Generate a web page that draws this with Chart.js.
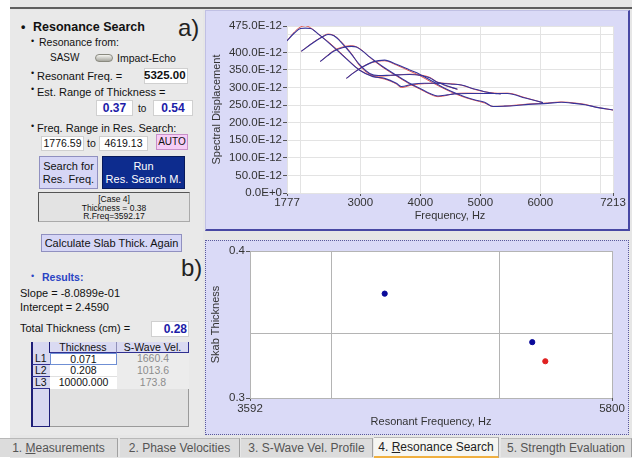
<!DOCTYPE html>
<html>
<head>
<meta charset="utf-8">
<script src="https://cdn.jsdelivr.net/npm/chart.js"></script>
<style>
  body { margin: 0; width: 638px; height: 458px; background: #fff; position: relative; overflow: hidden;
         font-family: "Liberation Sans", Arial, sans-serif; color: #111; }
  .abs { position: absolute; white-space: nowrap; }
  .box { position: absolute; background: #fff; box-sizing: border-box; border: 1px solid #d0d0d0; }
  .btn { position: absolute; box-sizing: border-box; text-align: center; font-size: 11px; line-height: 13px; }
  .cell { position: absolute; box-sizing: border-box; font-size: 10.5px; text-align: center; line-height: 11px; }
  .tab { position: absolute; top: 438px; height: 19px; line-height: 19px; text-align: center; font-size: 12px;
         color: #555; background: #dcdcdc; box-sizing: border-box; border-right: 1px solid #a0a0a0; border-top: 1px solid #b8b8b8; }
</style>
</head>
<body>

<!-- app frame -->
<div class="abs" style="left:10px;top:0;width:622px;height:458px;background:#e6e6e6;"></div>
<div class="abs" style="left:10px;top:7px;width:622px;height:2px;background:#5e5e5e;"></div>

<!-- left panel -->
<div class="abs" style="left:10px;top:10px;width:193px;height:425px;background:#e9e9e9;"></div>
<div class="abs" style="left:21px;top:20px;font-size:12.5px;font-weight:bold;">•</div>
<div class="abs" style="left:33px;top:20px;font-size:12.5px;font-weight:bold;">Resonance Search</div>
<div class="abs" style="left:31px;top:36px;font-size:9px;">•</div>
<div class="abs" style="left:39px;top:36px;font-size:10.5px;">Resonance from:</div>
<div class="abs" style="left:50px;top:52px;font-size:10px;">SASW</div>
<div class="abs" style="left:95px;top:54px;width:18px;height:8px;border-radius:4px;background:linear-gradient(#f4f4f0,#a8a8a0);border:1px solid #8a8a80;box-sizing:border-box;"></div>
<div class="abs" style="left:117px;top:52px;font-size:10.5px;">Impact-Echo</div>

<div class="abs" style="left:31px;top:68px;font-size:9px;">•</div>
<div class="abs" style="left:37px;top:70px;font-size:11px;">Resonant Freq. =</div>
<div class="box" style="left:144px;top:68px;width:44px;height:16px;"></div>
<div class="abs" style="left:144px;top:69px;width:41px;text-align:right;font-size:11.5px;font-weight:bold;">5325.00</div>

<div class="abs" style="left:31px;top:84px;font-size:9px;">•</div>
<div class="abs" style="left:37px;top:86px;font-size:11px;">Est. Range of Thickness =</div>
<div class="box" style="left:96px;top:100px;width:37px;height:16px;"></div>
<div class="abs" style="left:96px;top:101px;width:37px;text-align:center;font-size:12px;font-weight:bold;color:#1c1ca8;">0.37</div>
<div class="abs" style="left:138px;top:103px;font-size:10px;">to</div>
<div class="box" style="left:153px;top:100px;width:40px;height:16px;"></div>
<div class="abs" style="left:153px;top:101px;width:40px;text-align:center;font-size:12px;font-weight:bold;color:#1c1ca8;">0.54</div>

<div class="abs" style="left:31px;top:121px;font-size:9px;">•</div>
<div class="abs" style="left:37px;top:122px;font-size:11px;">Freq. Range in Res. Search:</div>
<div class="box" style="left:41px;top:136px;width:43px;height:15px;"></div>
<div class="abs" style="left:41px;top:137px;width:43px;text-align:center;font-size:10.5px;">1776.59</div>
<div class="abs" style="left:87px;top:137px;font-size:10.5px;">to</div>
<div class="box" style="left:99px;top:136px;width:49px;height:15px;"></div>
<div class="abs" style="left:99px;top:137px;width:49px;text-align:center;font-size:10.5px;">4619.13</div>
<div class="abs" style="left:156px;top:134px;width:32px;height:16px;background:#f6cdf6;border:1px solid #c890c8;box-sizing:border-box;text-align:center;font-size:10px;line-height:14px;">AUTO</div>

<div class="btn" style="left:39px;top:156px;width:59px;height:33px;background:#d6d6f6;border:1px solid #9090c0;padding-top:3px;">Search for<br>Res. Freq.</div>
<div class="btn" style="left:102px;top:156px;width:83px;height:33px;background:#0d2c8e;border:1px solid #07195a;color:#fff;padding-top:3px;">Run<br>Res. Search M.</div>

<div class="abs" style="left:38px;top:192px;width:152px;height:30px;background:#e3e3e3;border:1px solid #555;border-right-color:#aaa;border-bottom-color:#aaa;box-sizing:border-box;text-align:center;font-size:8.5px;line-height:8.5px;padding-top:2px;">[Case 4]<br>Thickness = 0.38<br>R.Freq=3592.17</div>

<div class="btn" style="left:41px;top:234px;width:141px;height:18px;background:#d6d6f6;border:1px solid #9090c0;line-height:16px;">Calculate Slab Thick. Again</div>

<div class="abs" style="left:31px;top:271px;font-size:9px;color:#2a44c4;">•</div>
<div class="abs" style="left:42px;top:271px;font-size:10.5px;font-weight:bold;color:#2a44c4;">Results:</div>
<div class="abs" style="left:20px;top:287px;font-size:11px;">Slope = -8.0899e-01</div>
<div class="abs" style="left:20px;top:301px;font-size:11px;">Intercept = 2.4590</div>
<div class="abs" style="left:20px;top:322px;font-size:11px;">Total Thickness (cm) =</div>
<div class="box" style="left:151px;top:321px;width:38px;height:16px;"></div>
<div class="abs" style="left:151px;top:322px;width:36px;text-align:right;font-size:12px;font-weight:bold;color:#1c1ca8;">0.28</div>

<!-- results table -->
<div class="abs" style="left:31px;top:342px;width:158px;height:85px;background:#e2e2e2;border:1px solid #9a9a9a;box-sizing:border-box;"></div>
<div class="cell" style="left:31px;top:342px;width:19px;height:85px;background:#d8d8f0;border-left:2px solid #1e1e78;border-right:1px solid #1e1e78;border-bottom:1px solid #1e1e78;"></div>
<div class="cell" style="left:50px;top:342px;width:67px;height:11px;background:#dadaf2;border-right:1px solid #9090b8;border-bottom:1px solid #303090;">Thickness</div>
<div class="cell" style="left:117px;top:342px;width:72px;height:11px;background:#dadaf2;border-right:1px solid #303090;border-bottom:1px solid #303090;">S-Wave Vel.</div>
<div class="cell" style="left:31px;top:353px;width:19px;height:12px;background:#d8d8f0;border-left:2px solid #1e1e78;border-bottom:1px solid #303090;text-align:left;padding-left:2px;">L1</div>
<div class="cell" style="left:31px;top:365px;width:19px;height:12px;background:#d8d8f0;border-left:2px solid #1e1e78;border-bottom:1px solid #303090;text-align:left;padding-left:2px;">L2</div>
<div class="cell" style="left:31px;top:377px;width:19px;height:12px;background:#d8d8f0;border-left:2px solid #1e1e78;border-bottom:1px solid #303090;text-align:left;padding-left:2px;">L3</div>
<div class="cell" style="left:50px;top:353px;width:67px;height:12px;background:#fff;border:1px solid #6f8fd4;">0.071</div>
<div class="cell" style="left:50px;top:365px;width:67px;height:12px;background:#fff;border-bottom:1px solid #e0e0e0;">0.208</div>
<div class="cell" style="left:50px;top:377px;width:67px;height:12px;background:#fff;">10000.000</div>
<div class="cell" style="left:117px;top:353px;width:72px;height:12px;background:#ececec;color:#8c8c8c;">1660.4</div>
<div class="cell" style="left:117px;top:365px;width:72px;height:12px;background:#ececec;color:#8c8c8c;">1013.6</div>
<div class="cell" style="left:117px;top:377px;width:72px;height:12px;background:#ececec;color:#8c8c8c;">173.8</div>

<!-- graph panels -->
<div class="abs" style="left:205px;top:10px;width:425px;height:221px;background:#dadaf7;border:1px solid #c0c0e4;border-right:2px solid #4848a4;border-bottom:2px solid #4848a4;box-sizing:border-box;"></div>
<div class="abs" style="left:205px;top:240px;width:424px;height:195px;background:#dadaf7;border:1px dotted #5a5a9a;box-sizing:border-box;"></div>
<div class="abs" style="left:178px;top:14px;font-size:24px;color:#222;">a)</div>
<div class="abs" style="left:181px;top:254px;font-size:24px;color:#222;">b)</div>

<canvas id="specChart" class="abs" style="left:208px;top:12px;" width="418" height="218"></canvas>
<canvas id="thickChart" class="abs" style="left:208px;top:243px;" width="418" height="190"></canvas>

<!-- tabs -->
<div class="tab" style="left:0px;width:118px;">1. <u>M</u>easurements</div>
<div class="tab" style="left:120px;width:120px;">2. Phase Velocities</div>
<div class="tab" style="left:241px;width:132px;">3. S-Wave Vel. Profile</div>
<div class="tab" style="left:374px;width:125px;top:437px;height:21px;background:#f6f6f2;color:#222;border-bottom:2px solid #f0b040;">4. <u>R</u>esonance Search</div>
<div class="tab" style="left:501px;width:131px;">5. Strength Evaluation</div>

<script>
// --- a) spectral displacement curves (values in E-12) ---
const freqTicks = [1777, 2000, 3000, 4000, 5000, 6000, 7000, 7213];
const freqTickLabels = ["1777", "", "3000", "4000", "5000", "6000", "", "7213"];
const dispTicks = [0, 50, 100, 150, 200, 250, 300, 350, 400, 450, 475];
const dispTickLabels = ["0.0E+0", "50.0E-12", "100.0E-12", "150.0E-12", "200.0E-12", "250.0E-12",
                        "300.0E-12", "350.0E-12", "400.0E-12", "", "475.0E-12"];

const curve1Freq = [1777, 1900, 2000, 2083, 2170, 2300, 2488, 2700, 2988, 3210, 3405, 3600, 3683, 3877, 4072, 4322, 4405, 4619];
const curve1Blue = [433, 455, 468, 469, 468, 452, 425, 392, 349, 331, 326, 312, 303, 310, 312, 312, 307, 295];
const curve1Red  = [433, 458, 472, 476, 470, 452, 427, 394, 350, 332, 324, 310, 300, 308, 311, 312, 306, 295];

const curve2Freq = [2016, 2200, 2350, 2460, 2560, 2700, 2850, 2988, 3155, 3300, 3500, 3822, 3988, 4155, 4294, 4500, 4683, 4900, 5072, 5238, 5340];
const curve2Blue = [403, 426, 442, 451, 447, 425, 395, 365, 340, 334, 335, 337, 335, 328, 314, 310, 307, 296, 288, 283, 282];
const curve2Red  = [403, 427, 443, 452, 448, 427, 397, 362, 338, 332, 334, 338, 336, 329, 315, 311, 307, 295, 288, 284, 282];

const curve3Freq = [2333, 2450, 2555, 2700, 2850, 2933, 3050, 3155, 3377, 3600, 3822, 3988, 4150, 4294, 4450, 4572, 4800, 5100, 5455, 5750, 6044];
const curve3Blue = [374, 390, 403, 413, 417, 415, 402, 387, 359, 335, 312, 298, 284, 276, 279, 282, 283, 283, 283, 270, 257];
const curve3Red  = [374, 391, 405, 415, 419, 416, 403, 386, 357, 333, 310, 296, 282, 274, 278, 283, 284, 283, 284, 271, 257];

const curve4Freq = [2767, 2900, 3044, 3210, 3405, 3600, 3822, 3988, 4200, 4405, 4600, 4738, 4900, 5072, 5213, 5400, 5600, 5800, 6122, 6350, 6570, 6750, 6905, 7213];
const curve4Blue = [326, 343, 359, 373, 378, 366, 350, 338, 318, 298, 283, 274, 265, 258, 246, 247, 249, 252, 255, 258, 255, 251, 245, 236];
const curve4Red  = [326, 344, 360, 372, 376, 364, 347, 334, 314, 296, 281, 272, 264, 256, 246, 247, 250, 253, 256, 259, 256, 252, 245, 236];

// --- b) slab thickness vs resonant frequency ---
const resFreq = [4293, 5219];
const slabThick = [0.371, 0.338];
const selFreq = [5310];
const selThick = [0.325];
const resFreqTicks = [3592, 4000, 5000, 5800];
const resFreqTickLabels = ["3592", "", "", "5800"];
const thickTicks = [0.3, 0.344, 0.4];
const thickTickLabels = ["0.3", "", "0.4"];

const pts = (xs, ys) => xs.map((x, i) => ({ x: x, y: ys[i] }));

// white plot area on the lavender panel
const plotBg = {
  id: "plotBg",
  beforeDraw(chart) {
    const { ctx, chartArea: a } = chart;
    ctx.save();
    ctx.fillStyle = "#fff";
    ctx.fillRect(a.left, a.top, a.right - a.left, a.bottom - a.top);
    ctx.restore();
  }
};

const blue = "#34349c";
const red = "rgba(226,78,72,0.95)";
const line = (f, v, color, w) => ({
  data: pts(f, v), borderColor: color, borderWidth: w, pointRadius: 0,
  cubicInterpolationMode: "monotone", fill: false
});

Chart.defaults.font.family = '"Liberation Sans", Arial, sans-serif';
Chart.defaults.color = "#333";

new Chart(document.getElementById("specChart"), {
  type: "line",
  data: {
    datasets: [
      line(curve1Freq, curve1Blue, blue, 1.1),
      line(curve2Freq, curve2Blue, blue, 1.1),
      line(curve3Freq, curve3Blue, blue, 1.1),
      line(curve4Freq, curve4Blue, blue, 1.1),
      line(curve1Freq, curve1Red, red, 1),
      line(curve2Freq, curve2Red, red, 1),
      line(curve3Freq, curve3Red, red, 1),
      line(curve4Freq, curve4Red, red, 1)
    ]
  },
  options: {
    responsive: false,
    animation: false,
    layout: { padding: { top: 14, right: 13, left: 0, bottom: 0 } },
    plugins: { legend: { display: false }, tooltip: { enabled: false } },
    scales: {
      x: {
        type: "linear", min: 1777, max: 7213,
        afterBuildTicks: (s) => { s.ticks = freqTicks.map((v) => ({ value: v })); },
        afterFit: (s) => { s.height = 37; },
        ticks: { autoSkip: false, maxRotation: 0, padding: 0, font: { size: 11.5 },
                 callback: (v, i) => freqTickLabels[i] },
        grid: { color: "#e3e3e3", tickLength: 3,
                tickColor: (c) => (freqTickLabels[c.index] === "" ? "rgba(0,0,0,0)" : "#555") },
        border: { display: false },
        title: { display: true, text: "Frequency, Hz", font: { size: 11 }, padding: { top: 0, bottom: 7 } }
      },
      y: {
        min: 0, max: 475,
        afterBuildTicks: (s) => { s.ticks = dispTicks.map((v) => ({ value: v })); },
        afterFit: (s) => { s.width = 79; },
        ticks: { autoSkip: false, padding: 1, font: { size: 11.5 },
                 callback: (v, i) => dispTickLabels[i] },
        grid: { color: "#e3e3e3", tickLength: 4,
                tickColor: (c) => (dispTickLabels[c.index] === "" ? "rgba(0,0,0,0)" : "#555") },
        border: { display: false },
        title: { display: true, text: "Spectral Displacement", font: { size: 11 }, padding: { top: 2, bottom: 0 } }
      }
    }
  },
  plugins: [plotBg]
});

new Chart(document.getElementById("thickChart"), {
  type: "scatter",
  data: {
    datasets: [
      { data: pts(resFreq, slabThick), backgroundColor: "#0a0a9a", borderColor: "#0a0a9a", pointRadius: 2.6 },
      { data: pts(selFreq, selThick), backgroundColor: "#e02020", borderColor: "#e02020", pointRadius: 2.6 }
    ]
  },
  options: {
    responsive: false,
    animation: false,
    layout: { padding: { top: 8, right: 14, left: 0, bottom: 0 } },
    plugins: { legend: { display: false }, tooltip: { enabled: false } },
    scales: {
      x: {
        type: "logarithmic", min: 3592, max: 5800,
        afterBuildTicks: (s) => { s.ticks = resFreqTicks.map((v) => ({ value: v })); },
        afterFit: (s) => { s.height = 35; },
        ticks: { autoSkip: false, maxRotation: 0, padding: 1, font: { size: 11.5 },
                 callback: (v, i) => resFreqTickLabels[i] },
        grid: { color: "#b4b4b4", tickLength: 3,
                tickColor: (c) => (resFreqTickLabels[c.index] === "" ? "rgba(0,0,0,0)" : "#555") },
        border: { display: false },
        title: { display: true, text: "Resonant Frequency, Hz", font: { size: 11 }, padding: { top: 0, bottom: 4 } }
      },
      y: {
        min: 0.3, max: 0.4,
        afterBuildTicks: (s) => { s.ticks = thickTicks.map((v) => ({ value: v })); },
        afterFit: (s) => { s.width = 42; },
        ticks: { autoSkip: false, padding: 1, font: { size: 11.5 },
                 callback: (v, i) => thickTickLabels[i] },
        grid: { color: "#b4b4b4", tickLength: 4,
                tickColor: (c) => (thickTickLabels[c.index] === "" ? "rgba(0,0,0,0)" : "#555") },
        border: { display: false },
        title: { display: true, text: "Skab Thickness", font: { size: 11 }, padding: { top: 1, bottom: 0 } }
      }
    }
  },
  plugins: [plotBg]
});
</script>
</body>
</html>
